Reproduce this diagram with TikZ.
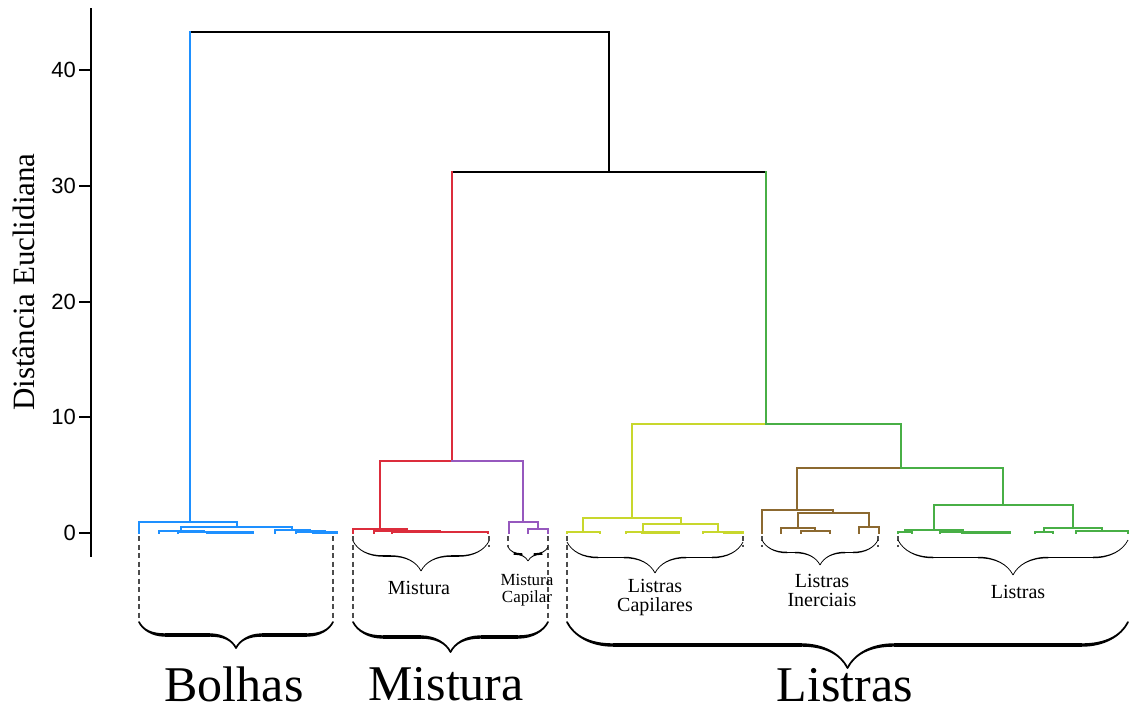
\documentclass[tikz,border=0pt]{standalone}
\usepackage{fontspec}
\setmainfont{Liberation Serif}
\newfontfamily\ticksfont{Liberation Sans}
\usepackage{xcolor}
\usetikzlibrary{decorations.pathreplacing, calligraphy}
\definecolor{cblue}{RGB}{30,144,255}
\definecolor{cred}{RGB}{220,45,60}
\definecolor{cpurple}{RGB}{150,88,190}
\definecolor{clime}{RGB}{200,215,45}
\definecolor{cbrown}{RGB}{140,105,48}
\definecolor{cgreen}{RGB}{72,175,70}

\begin{document}
\begin{tikzpicture}[x=1pt, y=-1pt,
  br/.style = {line width=2.8pt, line cap=rect},
  guide/.style = {gray!60!black, line width=1.1pt, dash pattern=on 5pt off 3.5pt},
  ibrace/.style = {decorate, decoration={calligraphic brace, mirror, amplitude=#1}, line width=1.5pt},
  obrace/.style = {decorate, decoration={calligraphic brace, mirror, amplitude=#1}, line width=3.4pt},
  tick/.style = {anchor=east, inner sep=0pt, font=\ticksfont\fontsize{22}{22}\selectfont},
  sublabel/.style = {align=center, inner sep=0pt, font=\fontsize{20}{19}\selectfont},
  grouplabel/.style = {inner sep=0pt, font=\fontsize{50}{50}\selectfont}]
\useasboundingbox (0,0) rectangle (1129,710);

% axis
\draw[line width=2pt] (91,8) -- (91,557);
\foreach \v in {0,...,4} {
  \pgfmathtruncatemacro\lab{10*\v}
  \draw[line width=2pt] (79,533-115.75*\v) -- (91,533-115.75*\v);
  \node[tick] (t\v) at (76,533-115.75*\v) {\lab};
}
\node[rotate=90, inner sep=0pt, font=\fontsize{31}{31}\selectfont] (ylab) at (24,282) {Distância Euclidiana};

% merge points and leaves
\foreach \n/\x/\y in {r/400/32, A/609/172, B/190/522, M/452/461, L/766/424, G/901/468,
  Mr/380/529, Mp/523/522, Lc/632/518, Li/797/510, Lg/1003/505,
  b1/139/533, b2/237/527, b3/181/531, b4/292/530, b5/159/533, b6/204/532, b7/178/533,
  b8/230/532.5, b9/207/533, b10/253/533, b11/275/533, b12/310/531.5, b13/296/533,
  b14/325/532.5, b15/313/533, b16/337/533,
  m1/353/533, m2/407/531, m3/374/533, m4/440/532, m5/392/533, m6/488/533,
  p1/509/533, p2/538/529, p3/528/533, p4/548/533,
  c1/583/532, c2/681/524, c3/643/532, c4/718/532, c5/567/533, c6/600/533, c7/626/533,
  c8/660/532.5, c9/642/533, c10/679/533, c11/703/533, c12/733/532.5, c13/724/533, c14/743/533,
  i1/762/533, i2/833/513, i3/798/528, i4/869/527, i5/781/533, i6/815/531, i7/801/533,
  i8/830/533, i9/859/533, i10/879/533,
  g1/934/530, g2/1073/528, g3/905/532, g4/963/532, g5/898/533, g6/912/533, g7/940/533,
  g8/986/532.5, g9/962/533, g10/1010/533, g11/1044/532, g12/1102/531, g13/1035/533,
  g14/1053/533, g15/1076/533, g16/1128/533}
  \coordinate (\n) at (\x,\y);

\draw[br] (B |- r) -- (A |- r);
\draw[br, cblue] (B |- r) -- (B);
\draw[br] (A |- r) -- (A);
\draw[br] (M |- A) -- (L |- A);
\draw[br, cred] (M |- A) -- (M);
\draw[br, cgreen] (L |- A) -- (L);
\foreach \p/\c/\col in {M/Mr/cred, M/Mp/cpurple, L/Lc/clime, L/G/cgreen, G/Li/cbrown, G/Lg/cgreen,
  B/b1/cblue, B/b2/cblue, b2/b3/cblue, b2/b4/cblue, b3/b5/cblue, b3/b6/cblue, b6/b7/cblue,
  b6/b8/cblue, b8/b9/cblue, b8/b10/cblue, b4/b11/cblue, b4/b12/cblue, b12/b13/cblue,
  b12/b14/cblue, b14/b15/cblue, b14/b16/cblue,
  Mr/m1/cred, Mr/m2/cred, m2/m3/cred, m2/m4/cred, m4/m5/cred, m4/m6/cred,
  Mp/p1/cpurple, Mp/p2/cpurple, p2/p3/cpurple, p2/p4/cpurple,
  Lc/c1/clime, Lc/c2/clime, c2/c3/clime, c2/c4/clime, c1/c5/clime, c1/c6/clime, c3/c7/clime,
  c3/c8/clime, c8/c9/clime, c8/c10/clime, c4/c11/clime, c4/c12/clime, c12/c13/clime, c12/c14/clime,
  Li/i1/cbrown, Li/i2/cbrown, i2/i3/cbrown, i2/i4/cbrown, i3/i5/cbrown, i3/i6/cbrown,
  i6/i7/cbrown, i6/i8/cbrown, i4/i9/cbrown, i4/i10/cbrown,
  Lg/g1/cgreen, Lg/g2/cgreen, g1/g3/cgreen, g1/g4/cgreen, g3/g5/cgreen, g3/g6/cgreen,
  g4/g7/cgreen, g4/g8/cgreen, g8/g9/cgreen, g8/g10/cgreen, g2/g11/cgreen, g2/g12/cgreen,
  g11/g13/cgreen, g11/g14/cgreen, g12/g15/cgreen, g12/g16/cgreen}
  \draw[br, \col] (\p) -| (\c);

% group guides and braces
\foreach \x in {139,333,353,548,567} \draw[guide] (\x,536) -- (\x,621);
\foreach \x in {489,508,743,762,878,898} \draw[guide] (\x,536) -- (\x,547);
\draw[ibrace=30pt] (353,541) -- (489,541);
\draw[ibrace=14pt] (508,547) -- (548,547);
\draw[ibrace=31pt] (567,542) -- (743,542);
\draw[ibrace=25pt] (762,540) -- (878,540);
\draw[ibrace=35pt] (898,540) -- (1128,540);
\draw[obrace=26pt] (139,622) -- (333,622);
\draw[obrace=30pt] (353,622) -- (548,622);
\draw[obrace=46pt] (567,622) -- (1128,622);

\node[sublabel] (smist) at (419,588) {Mistura};
\node[sublabel, font=\fontsize{17}{17}\selectfont] (smcap) at (527,590) {Mistura\\Capilar};
\node[sublabel] (slcap) at (655,597) {Listras\\Capilares};
\node[sublabel] (slin) at (822,590) {Listras\\Inerciais};
\node[sublabel] (slis) at (1018,592) {Listras};
\node[grouplabel] (bolhas) at (234,684) {Bolhas};
\node[grouplabel] (mistura) at (446,684) {Mistura};
\node[grouplabel] (listras) at (845,685) {Listras};
\end{tikzpicture}
\end{document}
